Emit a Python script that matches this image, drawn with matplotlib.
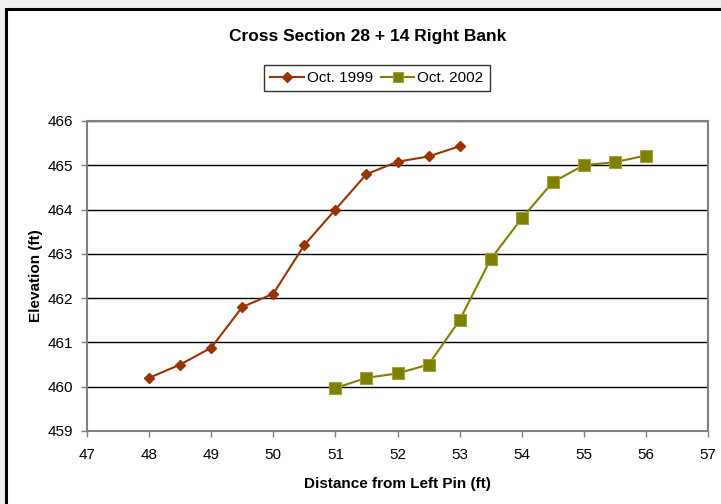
import matplotlib.pyplot as plt
from matplotlib.patches import Rectangle

plt.rcParams['font.family'] = ['Liberation Sans', 'DejaVu Sans']

# Cross section survey data
dist_1999 = [48, 48.5, 49, 49.5, 50, 50.5, 51, 51.5, 52, 52.5, 53]
elev_1999 = [460.2, 460.5, 460.88, 461.8, 462.1, 463.2, 464.0, 464.8, 465.08, 465.2, 465.43]
dist_2002 = [51, 51.5, 52, 52.5, 53, 53.5, 54, 54.5, 55, 55.5, 56]
elev_2002 = [459.97, 460.2, 460.3, 460.5, 461.5, 462.88, 463.8, 464.62, 465.0, 465.07, 465.22]

fig = plt.figure(figsize=(7.21, 5.04), dpi=100)
fig.patch.set_facecolor('#f0f0f0')
# chart area with black frame
fig.patches.append(Rectangle((6 / 721, -0.1), 1.2, 1 - 9 / 504 + 0.1,
                             transform=fig.transFigure, facecolor='white',
                             edgecolor='black', linewidth=2.2, zorder=-10))

ax = fig.add_axes([87 / 721, 1 - 431 / 504, 621 / 721, 310 / 504])
ax.plot(dist_1999, elev_1999, color='#993300', marker='D', markersize=5.5,
        linewidth=1.5, label='Oct. 1999')
ax.plot(dist_2002, elev_2002, color='#808000', marker='s', markersize=9,
        markeredgecolor='#a0a040', markeredgewidth=0.8, linewidth=1.5,
        label='Oct. 2002')

ax.set_xlim(47, 57)
ax.set_ylim(459, 466)
ax.set_xticks(range(47, 58))
ax.set_yticks(range(459, 467))
ax.grid(axis='y', color='black', linewidth=1)
ax.set_axisbelow(True)
for s in ax.spines.values():
    s.set_color('#808080')
    s.set_linewidth(1.5)
ax.tick_params(colors='black', labelsize=11, length=4, width=1, pad=6)
ax.tick_params(axis='x', pad=8)
ax.tick_params(axis='both', color='#808080')

ax.set_xlabel('Distance from Left Pin (ft)', fontsize=11, fontweight='bold', labelpad=11)
ax.set_ylabel('Elevation (ft)', fontsize=11, fontweight='bold', labelpad=3)

fig.text(368 / 721, 1 - 36 / 504, 'Cross Section 28 + 14 Right Bank', ha='center',
         va='center', fontsize=12.5, fontweight='bold')

leg = ax.legend(loc='center', bbox_to_anchor=(377 / 721, 1 - 78 / 504),
                bbox_transform=fig.transFigure, ncol=2, frameon=True,
                fancybox=False, edgecolor='black', fontsize=11,
                handlelength=2.2, handletextpad=0.2, columnspacing=0.5,
                borderpad=0.4, markerscale=0.85)
leg.get_frame().set_linewidth(1)

fig.savefig('out.png', dpi=100, facecolor=fig.get_facecolor())
